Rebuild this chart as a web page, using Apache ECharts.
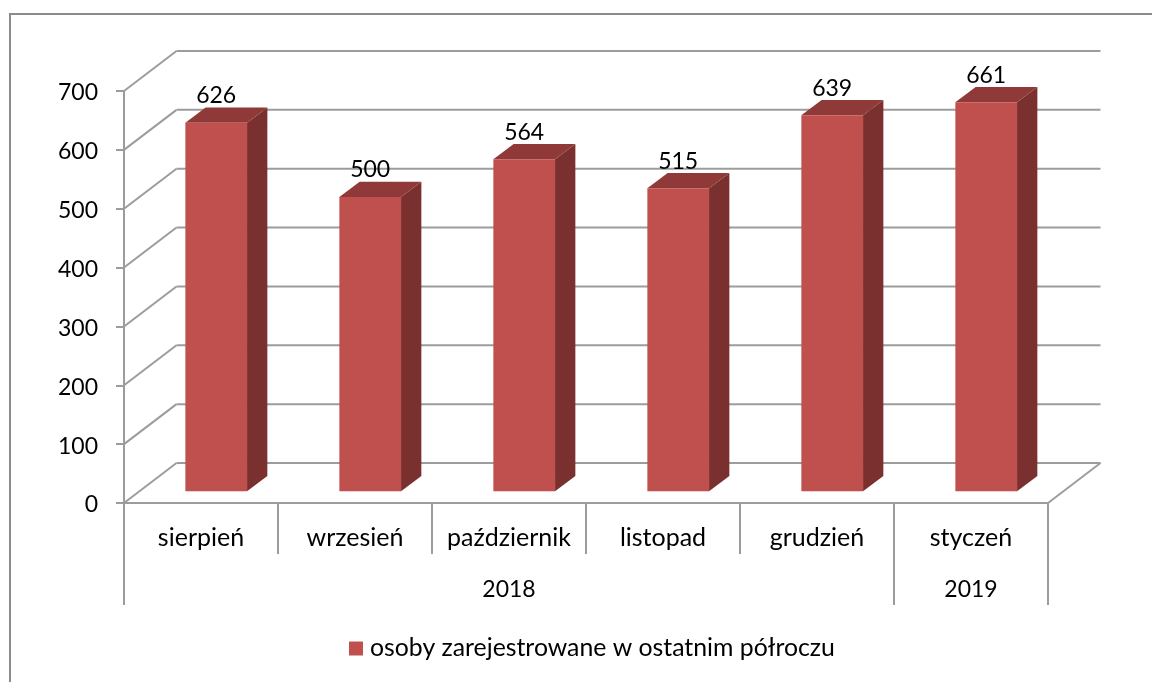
<!DOCTYPE html>
<html>
<head>
<meta charset="utf-8">
<style>
  html, body { margin: 0; padding: 0; background: #fff; }
  #main { width: 1152px; height: 682px; }
</style>
<script src="https://cdn.jsdelivr.net/npm/echarts@6/dist/echarts.min.js"></script>
</head>
<body>
<div id="main"></div>
<script>
var months = ['sierpień', 'wrzesień', 'październik', 'listopad', 'grudzień', 'styczeń']
var values = [626, 500, 564, 515, 639, 661]
var yTicks = [0, 100, 200, 300, 400, 500, 600, 700]
var yearLabels = ['2018', '2019']
var yearStart = [0, 5]
var yearSpan = [5, 1]
var seriesName = 'osoby zarejestrowane w ostatnim półroczu'

var FONT = 'Lato'
var LINE = '#9c9c9c'
var FRONT = '#c0504d'
var SIDE = '#7a302e'
var TOP = '#8f3a38'

// pseudo 3d offsets
var wallDx = 52.5
var wallDy = -40
var barDx = 15.2
var barDy = -11.7
var depthDx = 20.3
var depthDy = -15.3
var barWidth = 61.7

function line(x1, y1, x2, y2) {
  return {
    type: 'line',
    shape: { x1: x1, y1: y1, x2: x2, y2: y2 },
    style: { stroke: LINE, lineWidth: 2 },
  }
}

function renderWall(params, api) {
  var p = api.coord([0, api.value(0)])
  var band = api.size([1, 0])[0]
  var left = p[0] - band / 2
  var right = left + band * months.length
  var children = [
    line(left, p[1], left + wallDx, p[1] + wallDy),
    line(left + wallDx, p[1] + wallDy, right + wallDx, p[1] + wallDy),
  ]
  if (api.value(0) === 0) {
    children.push(line(right, p[1], right + wallDx, p[1] + wallDy))
  }
  return { type: 'group', children: children }
}

function renderBar(params, api) {
  var p = api.coord([api.value(0), api.value(1)])
  var base = api.coord([api.value(0), 0])
  var x1 = p[0] + barDx - barWidth / 2
  var x2 = x1 + barWidth
  var yTop = p[1] + barDy
  var yBottom = base[1] + barDy
  return {
    type: 'group',
    children: [
      {
        type: 'polygon',
        shape: { points: [[x2, yTop], [x2 + depthDx, yTop + depthDy], [x2 + depthDx, yBottom + depthDy], [x2, yBottom]] },
        style: { fill: SIDE },
      },
      {
        type: 'polygon',
        shape: { points: [[x1, yTop], [x1 + depthDx, yTop + depthDy], [x2 + depthDx, yTop + depthDy], [x2, yTop]] },
        style: { fill: TOP },
      },
      {
        type: 'rect',
        shape: { x: x1, y: yTop, width: barWidth, height: yBottom - yTop },
        style: { fill: FRONT },
      },
      {
        type: 'text',
        style: {
          text: String(api.value(1)),
          x: (x1 + x2) / 2,
          y: yTop - 27,
          align: 'center',
          verticalAlign: 'middle',
          fontFamily: FONT,
          fontSize: 23,
          fill: '#000',
        },
      },
    ],
  }
}

function renderYear(params, api) {
  var start = api.value(0)
  var span = api.value(1)
  var p = api.coord([start, 0])
  var band = api.size([1, 0])[0]
  var left = p[0] - band / 2
  var right = left + band * span
  return {
    type: 'group',
    children: [
      line(left, p[1], left, p[1] + 102),
      line(right, p[1], right, p[1] + 102),
      {
        type: 'text',
        style: {
          text: yearLabels[params.dataIndex],
          x: (left + right) / 2,
          y: p[1] + 87,
          align: 'center',
          verticalAlign: 'middle',
          fontFamily: FONT,
          fontSize: 23,
          fill: '#000',
        },
      },
    ],
  }
}

var myChart = echarts.init(document.getElementById('main'))
myChart.setOption({
  animation: false,
  backgroundColor: '#fff',
  color: [FRONT],
  textStyle: { fontFamily: FONT },
  graphic: [
    {
      type: 'polyline',
      silent: true,
      shape: { points: [[10, 682], [10, 14], [1152, 14]] },
      style: { stroke: '#8c8c8c', lineWidth: 2, fill: null },
    },
  ],
  legend: {
    data: [seriesName],
    left: 344,
    top: 631,
    icon: 'rect',
    itemWidth: 14,
    itemHeight: 14,
    textStyle: { color: '#000', fontFamily: FONT, fontSize: 24.8, padding: [0, 0, 0, 2] },
  },
  grid: { left: 124, right: 104, top: 91, bottom: 179 },
  xAxis: {
    type: 'category',
    data: months,
    axisLine: { lineStyle: { color: LINE, width: 2 } },
    axisTick: { show: true, alignWithLabel: false, length: 51, lineStyle: { color: LINE, width: 2 } },
    axisLabel: { interval: 0, color: '#000', fontFamily: FONT, fontSize: 25, margin: 22 },
    splitLine: { show: false },
  },
  yAxis: {
    type: 'value',
    min: 0,
    max: 700,
    interval: 100,
    axisLine: { show: true, lineStyle: { color: LINE, width: 2 } },
    axisTick: { show: true, length: 8, lineStyle: { color: LINE, width: 2 } },
    axisLabel: { color: '#000', fontFamily: FONT, fontSize: 23, margin: 26, verticalAlign: 'top', lineHeight: 4 },
    splitLine: { show: false },
  },
  series: [
    {
      name: 'wall',
      type: 'custom',
      z: 1,
      silent: true,
      renderItem: renderWall,
      encode: { y: 0 },
      data: yTicks.map(function (t) { return [t] }),
    },
    {
      name: seriesName,
      type: 'custom',
      z: 3,
      itemStyle: { color: FRONT },
      renderItem: renderBar,
      encode: { x: 0, y: 1 },
      data: values.map(function (v, i) { return [i, v] }),
    },
    {
      name: 'years',
      type: 'custom',
      z: 2,
      silent: true,
      renderItem: renderYear,
      encode: { x: 0 },
      data: yearStart.map(function (s, i) { return [s, yearSpan[i]] }),
    },
  ],
})
</script>
</body>
</html>
